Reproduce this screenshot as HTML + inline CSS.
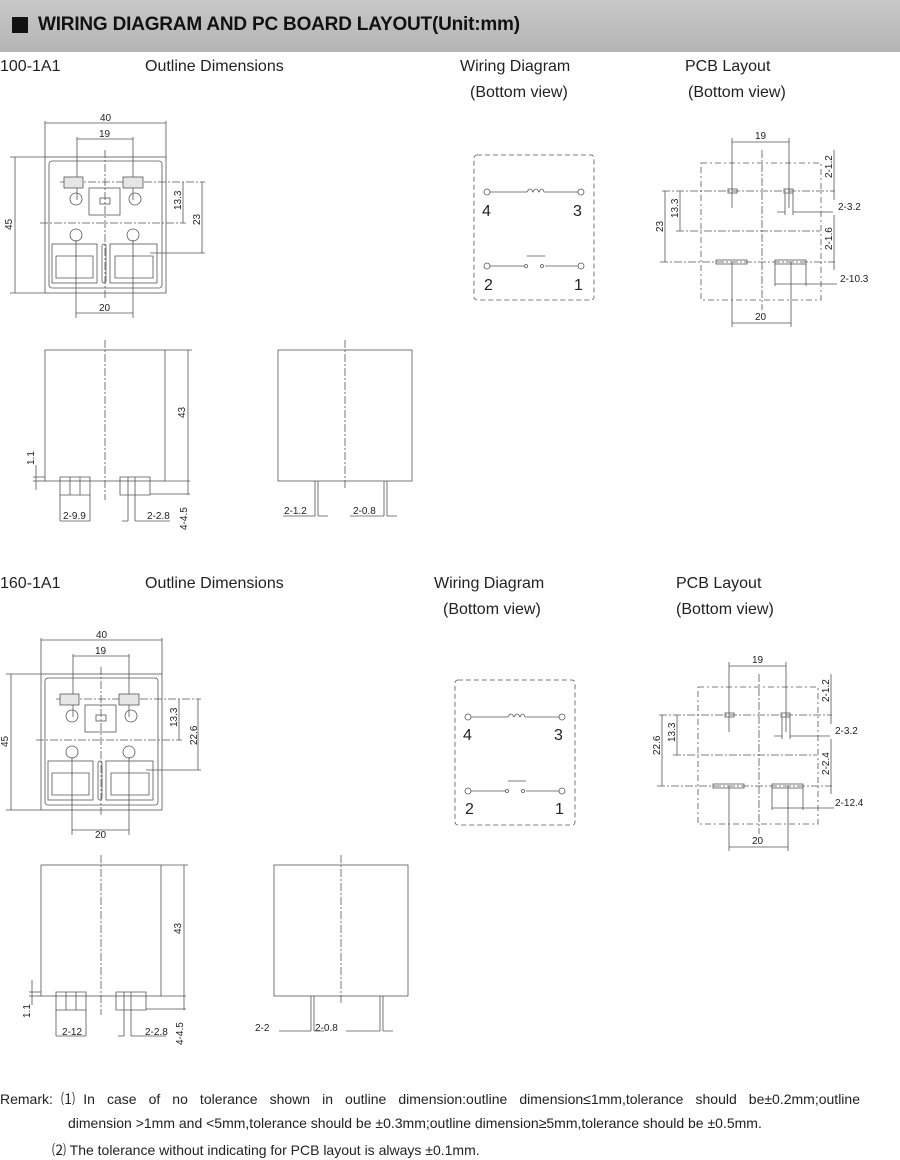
<!DOCTYPE html>
<html><head><meta charset="utf-8"><style>
html,body{margin:0;padding:0;background:#fff}
body{width:900px;height:1159px;position:relative;overflow:hidden;font-family:"Liberation Sans",sans-serif}
.hdr{position:absolute;left:0;top:0;width:900px;height:52px;background:linear-gradient(#c8c8c8,#b4b4b4)}
.hdr .sq{position:absolute;left:12px;top:17px;width:16px;height:16px;background:#111}
.hdr .t{position:absolute;left:38px;top:14px;font-size:19px;font-weight:bold;color:#111;letter-spacing:-0.2px}
.lb{position:absolute;font-size:16px;color:#222;white-space:nowrap}
.rm{position:absolute;font-size:14px;color:#222;white-space:nowrap}
svg{position:absolute;left:0;top:0}
</style></head><body>
<div class="hdr"><div class="sq"></div><div class="t">WIRING DIAGRAM AND PC BOARD LAYOUT(Unit:mm)</div></div>

<div class="lb" style="left:0;top:58px">100-1A1</div>
<div class="lb" style="left:145px;top:58px">Outline Dimensions</div>
<div class="lb" style="left:460px;top:58px">Wiring Diagram</div>
<div class="lb" style="left:470px;top:84px">(Bottom view)</div>
<div class="lb" style="left:685px;top:58px">PCB Layout</div>
<div class="lb" style="left:688px;top:84px">(Bottom view)</div>

<div class="lb" style="left:0;top:575px">160-1A1</div>
<div class="lb" style="left:145px;top:575px">Outline Dimensions</div>
<div class="lb" style="left:434px;top:575px">Wiring Diagram</div>
<div class="lb" style="left:443px;top:601px">(Bottom view)</div>
<div class="lb" style="left:676px;top:575px">PCB Layout</div>
<div class="lb" style="left:676px;top:601px">(Bottom view)</div>

<svg width="900" height="1159" viewBox="0 0 900 1159" font-family="Liberation Sans, sans-serif" font-size="10" fill="none" stroke="#555" stroke-width="0.8">
<defs>
<g id="top">
 <rect x="45" y="157" width="121" height="136"/>
 <rect x="49" y="161" width="113" height="127" rx="3"/>
 <line x1="45" y1="121" x2="45" y2="157"/><line x1="166" y1="121" x2="166" y2="157"/>
 <line x1="45" y1="123" x2="166" y2="123"/>
 <line x1="77" y1="137" x2="77" y2="200"/><line x1="133" y1="137" x2="133" y2="200"/>
 <line x1="77" y1="139" x2="133" y2="139"/>
 <line x1="105" y1="150" x2="105" y2="300" stroke-dasharray="8,2,2,2"/>
 <line x1="60" y1="182" x2="205" y2="182" stroke-dasharray="8,2,2,2"/>
 <line x1="40" y1="223" x2="186" y2="223" stroke-dasharray="8,2,2,2"/>
 <rect x="64" y="177" width="19" height="11" fill="#e6e6e6"/><rect x="123" y="177" width="20" height="11" fill="#e6e6e6"/>
 <rect x="89" y="188" width="31" height="27"/><rect x="100" y="198" width="10" height="6"/>
 <circle cx="76" cy="199" r="6"/><circle cx="135" cy="199" r="6"/><circle cx="76" cy="235" r="6"/><circle cx="133" cy="235" r="6"/>
 <rect x="52" y="244" width="45" height="39"/><rect x="110" y="244" width="47" height="39"/>
 <rect x="102" y="244" width="4" height="39" rx="2"/>
 <path d="M56 256h37v22H56z M115 256h38v22h-38z"/>
 <line x1="10" y1="157" x2="45" y2="157"/><line x1="10" y1="293" x2="45" y2="293"/>
 <line x1="15" y1="157" x2="15" y2="293"/>
 <line x1="76" y1="240" x2="76" y2="318"/><line x1="133" y1="240" x2="133" y2="318"/>
 <line x1="76" y1="313" x2="133" y2="313"/>
 <line x1="183" y1="182" x2="183" y2="223"/><line x1="202" y1="182" x2="202" y2="253"/>
 <line x1="150" y1="253" x2="205" y2="253"/>
</g>
<g id="wire">
 <rect x="474" y="155" width="120" height="145" rx="3" stroke-dasharray="5,3"/>
 <circle cx="487" cy="192" r="3"/><circle cx="581" cy="192" r="3"/><circle cx="487" cy="266" r="3"/><circle cx="581" cy="266" r="3"/>
 <path d="M490 192h37 M544 192h34 M527 192c2-4 4-4 6 0c2-4 4-4 6 0c2-4 4-4 5 0"/>
 <path d="M490 266h34 M545 266h33"/><circle cx="526" cy="266" r="1.5"/><circle cx="542" cy="266" r="1.5"/>
 <line x1="527" y1="256" x2="545" y2="256"/>
</g>
<g id="pcb">
 <rect x="701" y="163" width="120" height="137" stroke-dasharray="6,3,2,3"/>
 <line x1="762" y1="150" x2="762" y2="310" stroke-dasharray="8,2,2,2"/>
 <line x1="662" y1="191" x2="835" y2="191" stroke-dasharray="8,2,2,2"/>
 <line x1="676" y1="231" x2="820" y2="231" stroke-dasharray="8,2,2,2"/>
 <line x1="660" y1="262" x2="835" y2="262" stroke-dasharray="8,2,2,2"/>
 <rect x="728" y="189" width="9" height="4"/><rect x="784" y="189" width="9" height="4"/>
 <rect x="716" y="260" width="31" height="4"/><rect x="775" y="260" width="31" height="4"/>
 <line x1="732" y1="138" x2="732" y2="208"/><line x1="789" y1="138" x2="789" y2="208"/><line x1="732" y1="142" x2="789" y2="142"/>
 <line x1="732" y1="262" x2="732" y2="327"/><line x1="791" y1="262" x2="791" y2="327"/><line x1="732" y1="323" x2="791" y2="323"/>
 <line x1="680" y1="191" x2="680" y2="231"/><line x1="665" y1="191" x2="665" y2="262"/>
 <line x1="834" y1="150" x2="834" y2="200"/><line x1="834" y1="215" x2="834" y2="270"/>
 <path d="M777 212h8 M793 212h40 M775 284h32 M807 284h30 M785 193v22 M793 193v22 M775 264v22 M806 264v22"/>
</g>
<g id="front">
 <rect x="45" y="350" width="120" height="131"/>
 <line x1="105" y1="340" x2="105" y2="500" stroke-dasharray="8,2,2,2"/>
 <line x1="165" y1="350" x2="192" y2="350"/><line x1="188" y1="350" x2="188" y2="495"/>
 <path d="M60 477h30v18H60z M120 477h30v18h-30z M70 477v18 M80 477v18 M128 477v18 M135 477v18 M150 494h40 M165 481h25"/>
 <path d="M60 495v26 M90 495v26 M60 521h30 M128 495v26 M135 495v26 M122 521h6 M135 521h35"/>
 <line x1="33" y1="477" x2="45" y2="477"/><line x1="33" y1="481" x2="45" y2="481"/><line x1="36" y1="465" x2="36" y2="490"/>
 <rect x="278" y="350" width="134" height="131"/>
 <line x1="345" y1="340" x2="345" y2="490" stroke-dasharray="8,2,2,2"/>
 <path d="M315 481v35 M318 481v35 M384 481v35 M387 481v35 M283 516h32 M318 516h10 M350 516h34 M387 516h10"/>
</g>
</defs>
<use href="#top"/>
<use href="#wire"/>
<use href="#pcb"/>
<use href="#front"/>
<use href="#top" transform="translate(-4,517)"/>
<use href="#wire" transform="translate(-19,525)"/>
<use href="#pcb" transform="translate(-3,524)"/>
<use href="#front" transform="translate(-4,515)"/>

<g fill="#222" stroke="none" font-size="10">
 <text x="100" y="121">40</text><text x="99" y="137">19</text><text x="99" y="311">20</text>
 <text transform="translate(12,230) rotate(-90)">45</text>
 <text transform="translate(181,210) rotate(-90)">13.3</text>
 <text transform="translate(200,225) rotate(-90)">23</text>
 <text x="755" y="139">19</text><text x="755" y="320">20</text>
 <text transform="translate(678,218) rotate(-90)">13.3</text>
 <text transform="translate(663,232) rotate(-90)">23</text>
 <text transform="translate(832,178) rotate(-90)">2-1.2</text>
 <text transform="translate(832,250) rotate(-90)">2-1.6</text>
 <text x="838" y="210">2-3.2</text><text x="840" y="282">2-10.3</text>
 <text transform="translate(185,418) rotate(-90)">43</text>
 <text transform="translate(34,465) rotate(-90)">1.1</text>
 <text x="63" y="519">2-9.9</text><text x="147" y="519">2-2.8</text>
 <text transform="translate(187,530) rotate(-90)">4-4.5</text>
 <text x="284" y="514">2-1.2</text><text x="353" y="514">2-0.8</text>

 <text x="96" y="638">40</text><text x="95" y="654">19</text><text x="95" y="838">20</text>
 <text transform="translate(8,747) rotate(-90)">45</text>
 <text transform="translate(177,727) rotate(-90)">13.3</text>
 <text transform="translate(197,745) rotate(-90)">22.6</text>
 <text x="752" y="663">19</text><text x="752" y="844">20</text>
 <text transform="translate(675,742) rotate(-90)">13.3</text>
 <text transform="translate(660,755) rotate(-90)">22.6</text>
 <text transform="translate(829,702) rotate(-90)">2-1.2</text>
 <text transform="translate(829,775) rotate(-90)">2-2.4</text>
 <text x="835" y="734">2-3.2</text><text x="835" y="806">2-12.4</text>
 <text transform="translate(181,934) rotate(-90)">43</text>
 <text transform="translate(30,1018) rotate(-90)">1.1</text>
 <text x="62" y="1035">2-12</text><text x="145" y="1035">2-2.8</text>
 <text transform="translate(183,1045) rotate(-90)">4-4.5</text>
 <text x="255" y="1031">2-2</text><text x="315" y="1031">2-0.8</text>
</g>
<g fill="#222" stroke="none" font-size="16">
 <text x="482" y="216">4</text><text x="573" y="216">3</text><text x="484" y="290">2</text><text x="574" y="290">1</text>
 <text x="463" y="740">4</text><text x="554" y="740">3</text><text x="465" y="814">2</text><text x="555" y="814">1</text>
</g>
</svg>

<div class="rm" style="left:0;top:1089px;width:860px;text-align:justify;text-align-last:justify">Remark:⑴In case of no tolerance shown in outline dimension:outline dimension≤1mm,tolerance should be±0.2mm;outline</div>
<div class="rm" style="left:68px;top:1115px">dimension &gt;1mm and &lt;5mm,tolerance should be ±0.3mm;outline dimension≥5mm,tolerance should be ±0.5mm.</div>
<div class="rm" style="left:52px;top:1140px">⑵ The tolerance without indicating for PCB layout is always ±0.1mm.</div>
</body></html>
